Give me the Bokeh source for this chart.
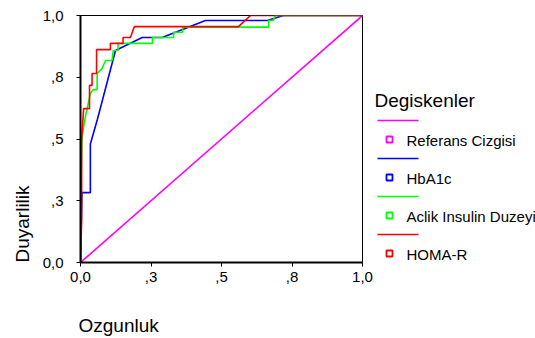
from bokeh.plotting import figure
from bokeh.layouts import row, column
from bokeh.models import Range1d, FixedTicker, Title
from bokeh.core.properties import value
from bokeh.embed import file_html
from bokeh.resources import INLINE

# ---- data ----
ref_fpr = [0.0, 1.0]
ref_tpr = [0.0, 1.0]

hba1c_fpr = [0.0, 0.005, 0.035, 0.035, 0.06, 0.124, 0.219, 0.29, 0.443, 0.663, 0.72, 1.0]
hba1c_tpr = [0.0, 0.283, 0.283, 0.48, 0.58, 0.858, 0.911, 0.911, 0.98, 0.98, 1.0, 1.0]

insulin_fpr = [0.0, 0.0, 0.005, 0.012, 0.018, 0.035, 0.045, 0.059, 0.059, 0.076, 0.089, 0.112, 0.116,
               0.133, 0.133, 0.255, 0.255, 0.33, 0.33, 0.362, 0.362, 0.667, 0.667, 0.684, 0.69, 1.0]
insulin_tpr = [0.0, 0.2, 0.5, 0.555, 0.595, 0.684, 0.70, 0.70, 0.765, 0.785, 0.818, 0.818, 0.858,
               0.858, 0.887, 0.887, 0.911, 0.911, 0.932, 0.932, 0.953, 0.953, 0.98, 0.98, 1.0, 1.0]

homa_fpr = [0.0, 0.004, 0.004, 0.011, 0.032, 0.032, 0.041, 0.041, 0.057, 0.057, 0.106, 0.106,
            0.151, 0.151, 0.177, 0.191, 0.56, 0.603, 1.0]
homa_tpr = [0.0, 0.17, 0.5, 0.623, 0.623, 0.717, 0.717, 0.765, 0.765, 0.862, 0.862, 0.887,
            0.887, 0.911, 0.911, 0.955, 0.955, 1.0, 1.0]

series_names = ["Referans Cizgisi", "HbA1c", "Aclik Insulin Duzeyi", "HOMA-R"]
series_colors = ["#FF00FF", "#0000FF", "#00FF00", "#FF0000"]

tick_values = [0.0, 0.25, 0.5, 0.75, 1.0]
tick_labels = ["0,0", ",3", ",5", ",8", "1,0"]

x_title = "Ozgunluk"
y_title = "Duyarlilik"
legend_title = "Degiskenler"

FONT = "Liberation Sans"

# ---- main plot ----
MAIN_H = 302
p = figure(frame_width=282, frame_height=247, title=None,
           x_range=Range1d(0, 1), y_range=Range1d(0, 1),
           min_border_left=80, min_border_top=15, min_border_bottom=MAIN_H - 15 - 247,
           min_border_right=12,
           output_backend="svg", toolbar_location=None)
p.grid.visible = False
p.outline_line_color = "black"
p.outline_line_width = 1
p.background_fill_color = "white"
p.border_fill_color = "white"

overrides = {v: t for v, t in zip(tick_values, tick_labels)}
for ax in (p.xaxis[0], p.yaxis[0]):
    ax.ticker = FixedTicker(ticks=tick_values)
    ax.major_label_overrides = overrides
    ax.axis_line_width = 2
    ax.axis_line_color = "black"
    ax.major_tick_line_color = "black"
    ax.major_tick_line_width = 1
    ax.major_tick_out = 4
    ax.major_tick_in = 0
    ax.minor_tick_line_color = None
    ax.major_label_text_font = FONT
    ax.major_label_text_font_size = "15px"
    ax.major_label_text_color = "black"
p.xaxis.major_label_standoff = 5
p.yaxis.major_label_standoff = 13

curves = [(ref_fpr, ref_tpr), (hba1c_fpr, hba1c_tpr), (insulin_fpr, insulin_tpr), (homa_fpr, homa_tpr)]
for (xs, ys), c in zip(curves, series_colors):
    p.line(xs, ys, line_color=c, line_width=1.6)

p.add_layout(Title(text=y_title, align="left", text_font=FONT, text_font_size="19px",
                   text_font_style="normal", text_color="black", standoff=14), "left")

# ---- legend panel ----
LW, LH = 161, MAIN_H
DY = -16  # compensate for the panel's vertical offset
lg = figure(frame_width=LW, frame_height=LH, title=None,
            x_range=Range1d(0, LW), y_range=Range1d(LH, 0),
            x_axis_type=None, y_axis_type=None, min_border=0,
            output_backend="svg", toolbar_location=None)
lg.grid.visible = False
lg.outline_line_color = None
lg.background_fill_color = "white"
lg.border_fill_color = "white"

lg.text(x=[0], y=[101 + DY], text=[legend_title], text_font=value(FONT), text_font_size="19px",
        text_align="left", text_baseline="middle", text_color="black")
step = 38
for i, (name, c) in enumerate(zip(series_names, series_colors)):
    ly = 121 + DY + i * step
    lg.line([3, 44], [ly, ly], line_color=c, line_width=1.6)
    lg.scatter([15], [ly + 19], marker="square", size=6, fill_color="white",
               line_color=c, line_width=1.8)
    lg.text(x=[32], y=[ly + 20], text=[name], text_font=value(FONT), text_font_size="15px",
            text_align="left", text_baseline="middle", text_color="black")

# ---- x title strip ----
SW, SH = 535, 338 - MAIN_H
st = figure(frame_width=SW, frame_height=SH, title=None,
            x_range=Range1d(0, SW), y_range=Range1d(SH, 0),
            x_axis_type=None, y_axis_type=None, min_border=0,
            output_backend="svg", toolbar_location=None)
st.grid.visible = False
st.outline_line_color = None
st.background_fill_color = "white"
st.border_fill_color = "white"
st.text(x=[78], y=[325 - MAIN_H], text=[x_title], text_font=value(FONT), text_font_size="19px",
        text_align="left", text_baseline="middle", text_color="black")

layout = column(row(p, lg), st)
open("out.html", "w").write(file_html(layout, INLINE))
